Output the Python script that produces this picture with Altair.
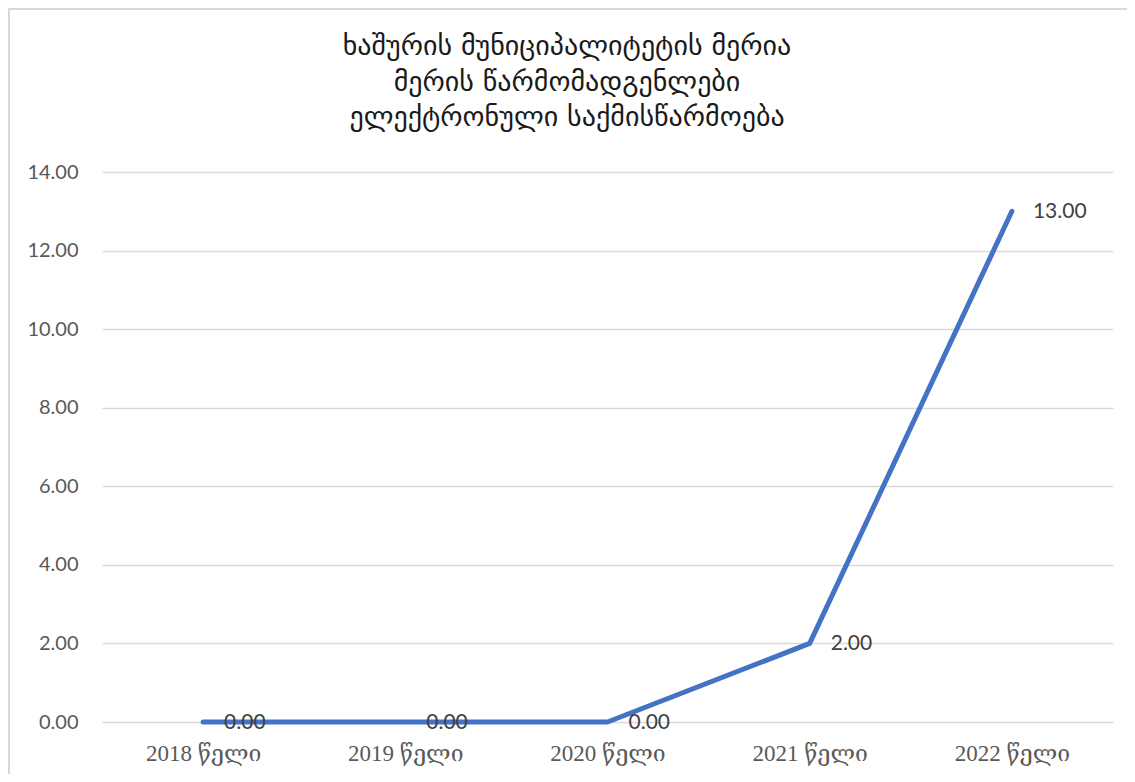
import altair as alt
import pandas as pd

years = ["2018 წელი", "2019 წელი", "2020 წელი", "2021 წელი", "2022 წელი"]
values = [0, 0, 0, 2, 13]
title_lines = [
    "ხაშურის მუნიციპალიტეტის მერია",
    "მერის წარმომადგენლები",
    "ელექტრონული საქმისწარმოება",
]

df = pd.DataFrame({"year": years, "value": values})
df["label"] = df["value"].map(lambda v: f"{v:.2f}")

W, H = 1011, 550
PL, PT, PR, PB = 94, 164, 14, 52

x = alt.X("year:N", sort=years, title=None,
          scale=alt.Scale(type="point", padding=0.5),
          axis=alt.Axis(labelAngle=0, domain=False, ticks=False,
                        labelFont="Liberation Serif, DejaVu Serif", labelFontSize=23,
                        labelColor="#595959", labelPadding=20, grid=False))
y = alt.Y("value:Q", title=None,
          scale=alt.Scale(domain=[0, 14], nice=False),
          axis=alt.Axis(values=[0, 2, 4, 6, 8, 10, 12, 14], format=".2f",
                        domain=False, ticks=False, labelFont="Lato",
                        labelFontSize=20, labelColor="#595959", labelPadding=24,
                        gridColor="#d9d9d9", gridWidth=1.5))

line = alt.Chart(df).mark_line(color="#4472C4", strokeWidth=5,
                               strokeCap="round", strokeJoin="round").encode(x=x, y=y)
labels = alt.Chart(df).mark_text(align="left", baseline="middle", dx=21, dy=1,
                                 font="Lato", fontSize=21, color="#404040").encode(
    x=alt.X("year:N", sort=years), y="value:Q", text="label:N")

border = alt.Chart(df).mark_rect(fill=None, stroke="#d9d9d9", strokeWidth=2).encode(
    x=alt.value(-PL + 1), x2=alt.value(W + PR + 10),
    y=alt.value(-PT + 1), y2=alt.value(H + PB + 10))

title_marks = [
    alt.Chart(pd.DataFrame({"t": [t]})).mark_text(
        font="DejaVu Sans", fontSize=28, color="#1a1a1a",
        align="center", baseline="middle").encode(
        text="t:N", x=alt.value(465), y=alt.value(yy))
    for t, yy in zip(title_lines, [-125, -89, -54])
]

chart = alt.layer(border, line, labels, *title_marks).properties(
    width=W, height=H,
    autosize=alt.AutoSizeParams(type="none"),
    padding={"left": PL, "top": PT, "right": PR, "bottom": PB},
).configure_view(stroke=None)

chart.save("out.html", embed_options={"renderer": "svg", "actions": False})
